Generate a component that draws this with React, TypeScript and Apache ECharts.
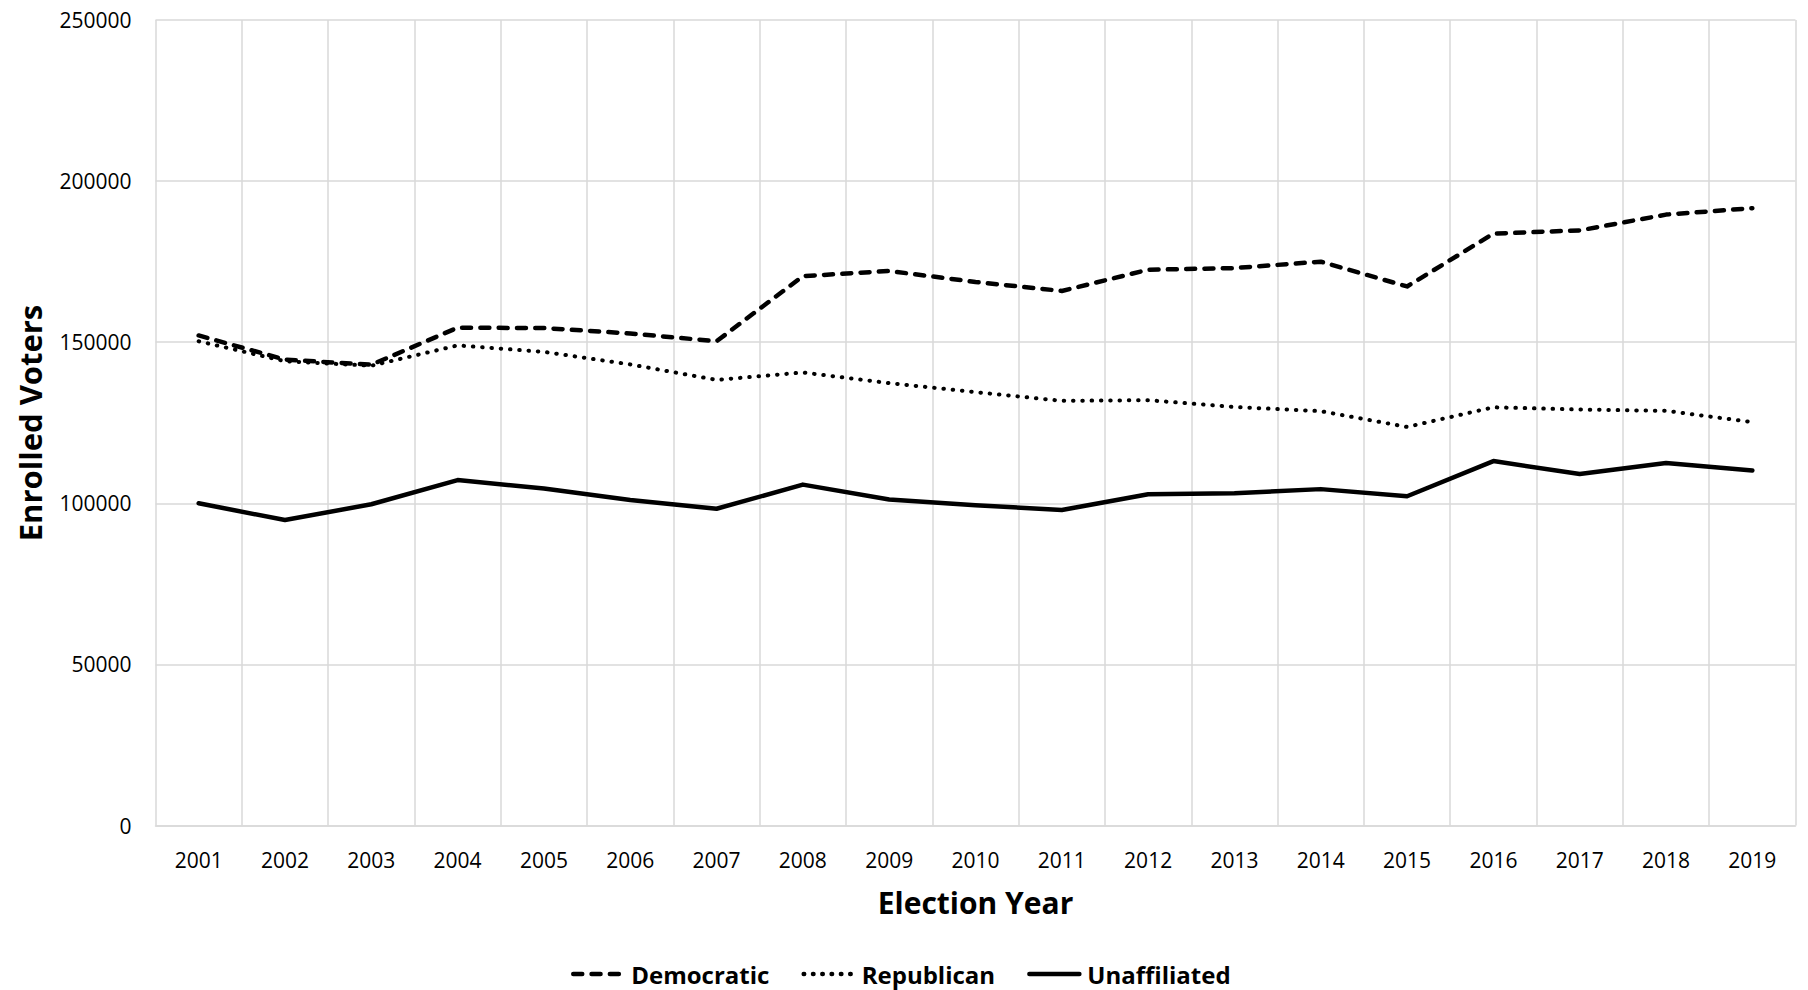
import React, { useEffect, useRef } from "react";
import * as echarts from "echarts";

const years = ["2001","2002","2003","2004","2005","2006","2007","2008","2009","2010","2011","2012","2013","2014","2015","2016","2017","2018","2019"];
const democratic = [152100,144600,143000,154500,154400,152700,150300,170500,172100,168700,165900,172500,173000,175000,167300,183700,184700,189600,191600];
const republican = [150300,144100,142700,149000,147000,143100,138300,140600,137300,134500,131800,132000,129900,128600,123700,129800,129100,128700,125200];
const unaffiliated = [100000,94800,99700,107200,104600,101000,98300,105800,101200,99400,97900,102800,103100,104400,102200,113100,109100,112500,110200];
const yTicks = { min: 0, max: 250000, interval: 50000 };

const FONT = "'Open Sans', 'Noto Sans', sans-serif";

export default function App() {
  const ref = useRef<HTMLDivElement>(null);
  useEffect(() => {
    if (!ref.current) return;
    const chart = echarts.init(ref.current, null, { renderer: "svg" });
    const lw = 4.5;
    chart.setOption({
      animation: false,
      backgroundColor: "#ffffff",
      grid: { left: 155.5, right: 12.5, top: 20, bottom: 164.5, containLabel: false },
      xAxis: {
        type: "category",
        data: years,
        boundaryGap: true,
        name: "Election Year",
        nameLocation: "middle",
        nameGap: 62,
        nameTextStyle: { fontFamily: FONT, fontSize: 30, fontWeight: "bold", color: "#000" },
        axisLine: { show: true, lineStyle: { color: "#d9d9d9", width: 1.5 } },
        axisTick: { show: false },
        axisLabel: { fontFamily: FONT, fontSize: 21, color: "#000", margin: 24 },
        splitLine: { show: true, lineStyle: { color: "#d9d9d9", width: 1.5 } },
      },
      yAxis: {
        type: "value",
        min: yTicks.min,
        max: yTicks.max,
        interval: yTicks.interval,
        axisLine: { show: false },
        axisTick: { show: false },
        axisLabel: {
          fontFamily: FONT,
          fontSize: 21,
          color: "#000",
          margin: 24,
          formatter: (v: number) => String(v),
        },
        splitLine: { show: true, lineStyle: { color: "#d9d9d9", width: 1.5 } },
      },
      legend: {
        top: 957,
        left: 566,
        itemWidth: 50,
        itemHeight: 20,
        itemGap: 32,
        itemStyle: { opacity: 0 },
        lineStyle: { width: 4.5 },
        textStyle: { fontFamily: FONT, fontSize: 24, fontWeight: "bold", color: "#000", padding: [0, 0, 0, 3] },
        data: ["Democratic", "Republican", "Unaffiliated"],
      },
      graphic: [
        {
          type: "text",
          x: 30,
          y: 423,
          rotation: Math.PI / 2,
          style: {
            text: "Enrolled Voters",
            fontFamily: FONT,
            fontSize: 31,
            fontWeight: "bold",
            fill: "#000",
            align: "center",
            verticalAlign: "middle",
          },
        },
      ],
      series: [
        {
          name: "Democratic",
          type: "line",
          data: democratic,
          symbol: "none",
          lineStyle: { color: "#000", width: lw, type: [9, 9.3], cap: "round", join: "round" },
          itemStyle: { color: "#000" },
        },
        {
          name: "Republican",
          type: "line",
          data: republican,
          symbol: "none",
          lineStyle: { color: "#000", width: 4, type: [0.5, 8.8], cap: "round", join: "round" },
          itemStyle: { color: "#000" },
        },
        {
          name: "Unaffiliated",
          type: "line",
          data: unaffiliated,
          symbol: "none",
          lineStyle: { color: "#000", width: lw, type: "solid", cap: "round", join: "round" },
          itemStyle: { color: "#000" },
        },
      ],
    });
    return () => chart.dispose();
  }, []);
  return (
    <div
      ref={ref}
      style={{ position: "fixed", left: 0, top: 0, width: 1808, height: 990, background: "#fff" }}
    />
  );
}
